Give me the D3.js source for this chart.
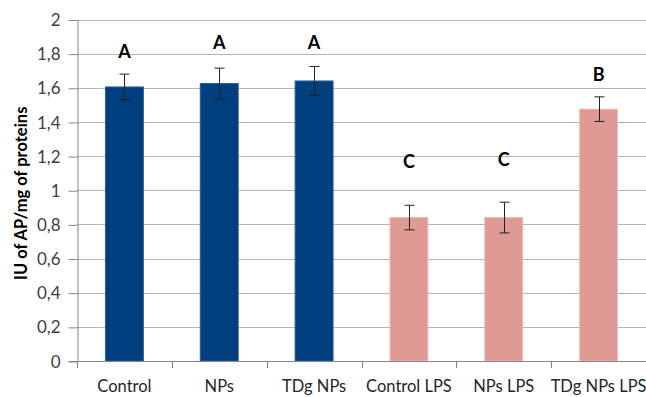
<!DOCTYPE html>
<html><head><meta charset="utf-8">
<script src="https://cdn.jsdelivr.net/npm/d3@7/dist/d3.min.js"></script>
<style>body{margin:0;background:#fff;} svg{display:block;}</style>
</head><body>
<script>
const categories = ["Control", "NPs", "TDg NPs", "Control LPS", "NPs LPS", "TDg NPs LPS"];
const values = [1.605, 1.625, 1.64, 0.84, 0.84, 1.475];
const errors = [0.075, 0.09, 0.085, 0.072, 0.09, 0.072];
const letters = ["A", "A", "A", "C", "C", "B"];
const letterPos = [1.775, 1.83, 1.83, 1.13, 1.14, 1.64];
const groups = ["ctrl", "ctrl", "ctrl", "lps", "lps", "lps"];
const yTicks = [0, 0.2, 0.4, 0.6, 0.8, 1, 1.2, 1.4, 1.6, 1.8, 2];
const yLabel = "IU of AP/mg of proteins";

const W = 646, H = 397;
const m = {left: 77, right: 0, top: 19.5, bottom: 36};
const fill = {ctrl: "#003f7d", lps: "#e09a94"};
const edge = {ctrl: "#2b5f99", lps: "#f2b9b3"};
const FONT = "Lato, 'Open Sans', sans-serif";

const svg = d3.select("body").append("svg").attr("width", W).attr("height", H);
const x = d3.scaleBand().domain(categories).range([m.left, W - m.right]).paddingInner(0.6).paddingOuter(0.3);
const xb = d3.scaleBand().domain(categories).range([m.left, W - m.right]);
const y = d3.scaleLinear().domain([0, 2]).range([H - m.bottom, m.top]);
const fmt = v => String(v).replace(".", ",");

// gridlines
svg.append("g").selectAll("line").data(yTicks.filter(d => d > 0)).join("line")
  .attr("x1", m.left).attr("x2", W).attr("y1", d => Math.round(y(d)) + 0.5).attr("y2", d => Math.round(y(d)) + 0.5)
  .attr("stroke", "#b4b4b4").attr("stroke-width", 1);

// y axis
const yAxis = svg.append("g").attr("transform", `translate(${m.left + 0.5},0)`)
  .call(d3.axisLeft(y).tickValues(yTicks).tickFormat(fmt).tickSize(9).tickSizeOuter(0));
yAxis.select(".domain").attr("stroke", "#868686");
yAxis.selectAll(".tick line").attr("stroke", "#868686").attr("transform", "translate(0,0.5)");
yAxis.selectAll(".tick text").attr("x", -17).attr("dy", "0.36em").attr("fill", "#404040")
  .style("font-family", FONT).style("font-size", "17px");

// bars
svg.append("g").selectAll("rect").data(categories).join("rect")
  .attr("x", d => x(d)).attr("width", x.bandwidth())
  .attr("y", (d, i) => y(values[i])).attr("height", (d, i) => y(0) - y(values[i]))
  .attr("fill", (d, i) => fill[groups[i]]).attr("stroke", (d, i) => edge[groups[i]]).attr("stroke-width", 1);

// x axis
const xAxis = svg.append("g").attr("transform", `translate(0,${Math.round(y(0)) + 0.5})`)
  .call(d3.axisBottom(xb).tickSize(0).tickSizeOuter(0));
xAxis.select(".domain").attr("stroke", "#868686").attr("d", `M${m.left - 8},0H${W}`);
xAxis.selectAll(".tick text").attr("y", 19).attr("dy", "0.71em").attr("fill", "#262626")
  .style("font-family", FONT).style("font-size", "16.5px");
svg.append("g").selectAll("line").data(categories.concat(["_end"])).join("line")
  .attr("x1", (d, i) => Math.round(m.left + i * xb.step()) + 0.5)
  .attr("x2", (d, i) => Math.round(m.left + i * xb.step()) + 0.5)
  .attr("y1", Math.round(y(0))).attr("y2", Math.round(y(0)) + 7)
  .attr("stroke", "#868686");

// error bars
const eb = svg.append("g").attr("stroke", "#222").attr("stroke-width", 1);
categories.forEach((c, i) => {
  const cx = Math.round(x(c) + x.bandwidth() / 2) + 0.5;
  const t = y(values[i] + errors[i]), b = y(values[i] - errors[i]);
  eb.append("line").attr("x1", cx).attr("x2", cx).attr("y1", t).attr("y2", b);
  eb.append("line").attr("x1", cx - 5).attr("x2", cx + 5).attr("y1", t).attr("y2", t);
  eb.append("line").attr("x1", cx - 5).attr("x2", cx + 5).attr("y1", b).attr("y2", b);
});

// letters
svg.append("g").selectAll("text").data(letters).join("text")
  .attr("x", (d, i) => x(categories[i]) + x.bandwidth() / 2)
  .attr("y", (d, i) => y(letterPos[i]))
  .attr("text-anchor", "middle").attr("fill", "#000")
  .style("font-family", FONT).style("font-weight", "bold").style("font-size", "18px")
  .text(d => d);

// y label
svg.append("text").attr("transform", `translate(27,${(y(0) + y(2)) / 2 + 3}) rotate(-90)`)
  .attr("text-anchor", "middle").attr("fill", "#000")
  .style("font-family", FONT).style("font-weight", "bold").style("font-size", "16.5px")
  .text(yLabel);
</script>
</body></html>
